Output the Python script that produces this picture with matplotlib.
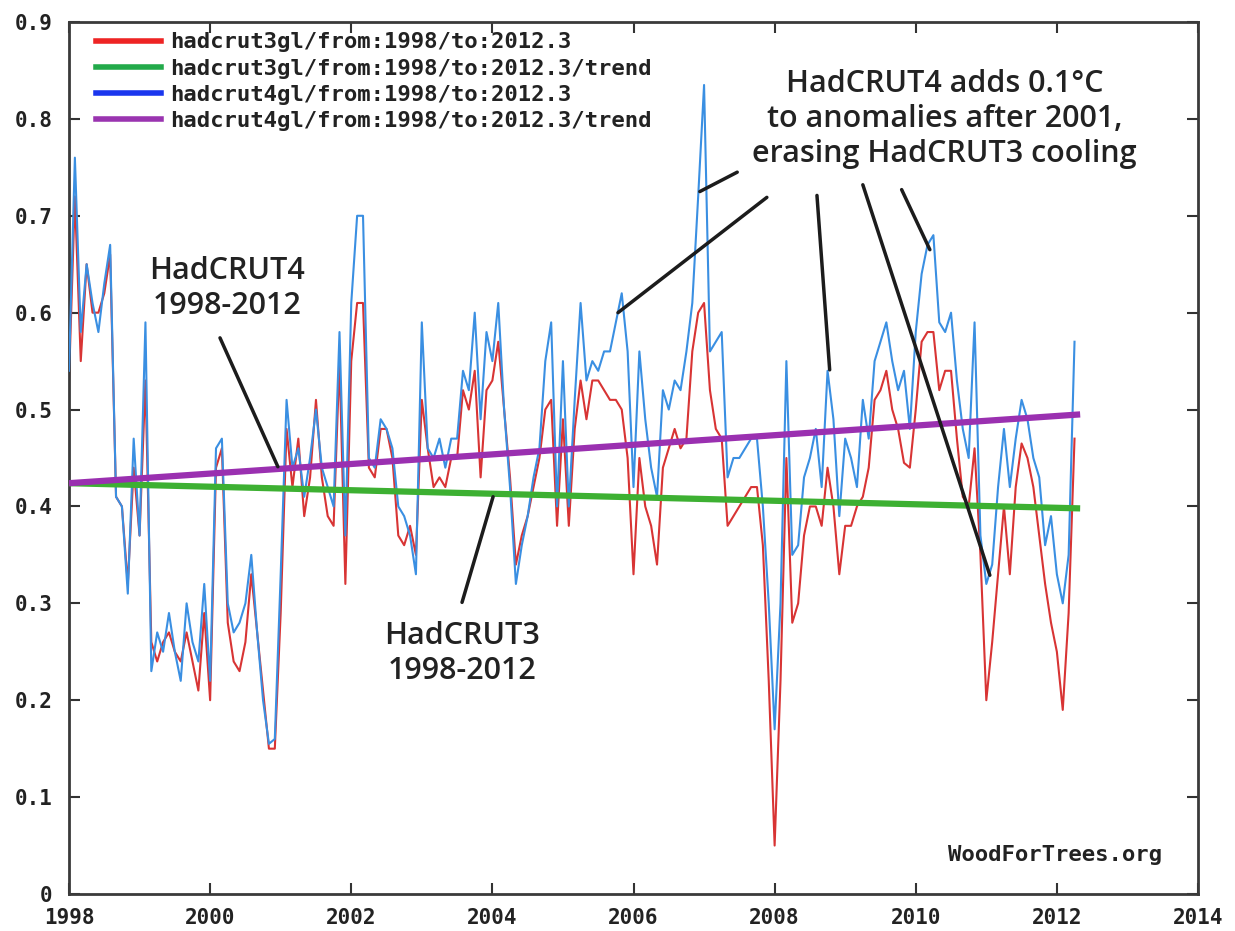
import numpy as np
import matplotlib
matplotlib.use("Agg")
import matplotlib.pyplot as plt
from matplotlib.lines import Line2D

# ---------------- data (monthly, Jan 1998 .. Apr 2012) ----------------
start_year = 1998

hadcrut3 = [
    0.53, 0.72, 0.55, 0.65, 0.60, 0.60, 0.62, 0.66, 0.41, 0.40, 0.32, 0.44,   # 1998
    0.37, 0.53, 0.26, 0.24, 0.26, 0.27, 0.25, 0.24, 0.27, 0.24, 0.21, 0.29,   # 1999
    0.20, 0.44, 0.46, 0.28, 0.24, 0.23, 0.26, 0.33, 0.27, 0.21, 0.15, 0.15,   # 2000
    0.29, 0.48, 0.42, 0.47, 0.39, 0.43, 0.51, 0.43, 0.39, 0.38, 0.55, 0.32,   # 2001
    0.55, 0.61, 0.61, 0.44, 0.43, 0.48, 0.48, 0.45, 0.37, 0.36, 0.38, 0.35,   # 2002
    0.51, 0.46, 0.42, 0.43, 0.42, 0.45, 0.45, 0.52, 0.50, 0.54, 0.43, 0.52,   # 2003
    0.53, 0.57, 0.50, 0.43, 0.34, 0.37, 0.39, 0.42, 0.45, 0.50, 0.51, 0.38,   # 2004
    0.49, 0.38, 0.48, 0.53, 0.49, 0.53, 0.53, 0.52, 0.51, 0.51, 0.50, 0.45,   # 2005
    0.33, 0.45, 0.40, 0.38, 0.34, 0.44, 0.46, 0.48, 0.46, 0.47, 0.56, 0.60,   # 2006
    0.61, 0.52, 0.48, 0.47, 0.38, 0.39, 0.40, 0.41, 0.42, 0.42, 0.36, 0.22,   # 2007
    0.05, 0.22, 0.45, 0.28, 0.30, 0.37, 0.40, 0.40, 0.38, 0.44, 0.40, 0.33,   # 2008
    0.38, 0.38, 0.40, 0.41, 0.44, 0.51, 0.52, 0.54, 0.50, 0.48, 0.445, 0.44,  # 2009
    0.50, 0.57, 0.58, 0.58, 0.52, 0.54, 0.54, 0.47, 0.41, 0.40, 0.46, 0.35,   # 2010
    0.20, 0.26, 0.33, 0.40, 0.33, 0.42, 0.465, 0.45, 0.42, 0.37, 0.32, 0.28,  # 2011
    0.25, 0.19, 0.29, 0.47,                                                   # 2012
]

hadcrut4 = [
    0.54, 0.76, 0.58, 0.65, 0.61, 0.58, 0.63, 0.67, 0.41, 0.40, 0.31, 0.47,   # 1998
    0.37, 0.59, 0.23, 0.27, 0.25, 0.29, 0.25, 0.22, 0.30, 0.26, 0.24, 0.32,   # 1999
    0.22, 0.46, 0.47, 0.30, 0.27, 0.28, 0.30, 0.35, 0.27, 0.20, 0.155, 0.16,  # 2000
    0.33, 0.51, 0.44, 0.46, 0.41, 0.45, 0.50, 0.44, 0.42, 0.40, 0.58, 0.37,   # 2001
    0.61, 0.70, 0.70, 0.45, 0.44, 0.49, 0.48, 0.46, 0.40, 0.39, 0.37, 0.33,   # 2002
    0.59, 0.46, 0.45, 0.47, 0.44, 0.47, 0.47, 0.54, 0.52, 0.60, 0.49, 0.58,   # 2003
    0.55, 0.61, 0.50, 0.42, 0.32, 0.36, 0.39, 0.43, 0.46, 0.55, 0.59, 0.40,   # 2004
    0.55, 0.40, 0.51, 0.61, 0.53, 0.55, 0.54, 0.56, 0.56, 0.59, 0.62, 0.56,   # 2005
    0.42, 0.56, 0.49, 0.44, 0.41, 0.52, 0.50, 0.53, 0.52, 0.56, 0.61, 0.72,   # 2006
    0.835, 0.56, 0.57, 0.58, 0.43, 0.45, 0.45, 0.46, 0.47, 0.47, 0.40, 0.30,  # 2007
    0.17, 0.30, 0.55, 0.35, 0.36, 0.43, 0.45, 0.48, 0.42, 0.54, 0.49, 0.39,   # 2008
    0.47, 0.45, 0.42, 0.51, 0.47, 0.55, 0.57, 0.59, 0.55, 0.52, 0.54, 0.48,   # 2009
    0.58, 0.64, 0.67, 0.68, 0.59, 0.58, 0.60, 0.53, 0.48, 0.45, 0.59, 0.37,   # 2010
    0.32, 0.34, 0.42, 0.48, 0.42, 0.47, 0.51, 0.49, 0.45, 0.43, 0.36, 0.39,   # 2011
    0.33, 0.30, 0.35, 0.57,                                                   # 2012
]

trend_x = [1998.0, 2012.33]
trend3 = [0.424, 0.398]
trend4 = [0.424, 0.495]

legend_labels = [
    "hadcrut3gl/from:1998/to:2012.3",
    "hadcrut3gl/from:1998/to:2012.3/trend",
    "hadcrut4gl/from:1998/to:2012.3",
    "hadcrut4gl/from:1998/to:2012.3/trend",
]
legend_colors = ["#ee2424", "#22aa4a", "#1a36ee", "#9a34b0"]

xticks = [1998, 2000, 2002, 2004, 2006, 2008, 2010, 2012, 2014]
yticks = [0, 0.1, 0.2, 0.3, 0.4, 0.5, 0.6, 0.7, 0.8, 0.9]
ytick_labels = ["0", "0.1", "0.2", "0.3", "0.4", "0.5", "0.6", "0.7", "0.8", "0.9"]

# ---------------- figure ----------------
W, H = 1235, 931
fig = plt.figure(figsize=(W / 100, H / 100), dpi=100)
fig.patch.set_facecolor("white")
ax = fig.add_axes([69 / W, 37 / H, 1129 / W, 872 / H])

t = start_year + np.arange(len(hadcrut3)) / 12.0

ax.plot(t, hadcrut3, color="#d83434", lw=1.5, zorder=2)
ax.plot(t, hadcrut4, color="#3a8fe2", lw=1.5, zorder=3)
ax.plot(trend_x, trend3, color="#3db032", lw=4.5, solid_capstyle="butt", zorder=4)
ax.plot(trend_x, trend4, color="#9a30b0", lw=4.5, solid_capstyle="butt", zorder=5)

ax.set_xlim(1998, 2014)
ax.set_ylim(0, 0.9)

mono = "DejaVu Sans Mono"
ax.set_xticks(xticks)
ax.set_xticklabels([str(v) for v in xticks], fontfamily=mono, fontweight="bold",
                   fontsize=15, color="#222222")
ax.set_yticks(yticks)
ax.set_yticklabels(ytick_labels, fontfamily=mono, fontweight="bold",
                   fontsize=15, color="#222222")
ax.tick_params(axis="both", direction="in", length=8, width=1.5, colors="#333333",
               top=True, right=True)
ax.tick_params(axis="x", pad=10)
ax.tick_params(axis="y", pad=12)
for lab in ax.get_xticklabels() + ax.get_yticklabels():
    lab.set_color("#222222")
for sp in ax.spines.values():
    sp.set_color("#3a3a3a")
    sp.set_linewidth(2)

# legend
handles = [Line2D([0], [0], color=c, lw=4) for c in legend_colors]
leg = ax.legend(handles, legend_labels, loc="upper left",
                bbox_to_anchor=(0.024, 0.988), frameon=False,
                prop={"family": mono, "weight": "bold", "size": 16},
                handlelength=2.9, handletextpad=0.45, labelspacing=0.28,
                borderpad=0.0, borderaxespad=0.0)
for txt in leg.get_texts():
    txt.set_color("#222222")

# watermark
ax.text(0.968, 0.033, "WoodForTrees.org", transform=ax.transAxes, ha="right",
        va="bottom", fontfamily=mono, fontweight="bold", fontsize=16, color="#222222")

# annotations
afont = dict(fontfamily="Open Sans", fontweight="semibold", fontsize=22,
             color="#222222", ha="center", va="center", linespacing=1.22)
ax.text(2000.24, 0.625, "HadCRUT4\n1998-2012", **afont)
ax.text(2003.57, 0.248, "HadCRUT3\n1998-2012", **afont)
ax.text(2010.41, 0.800, "HadCRUT4 adds 0.1\u00b0C\nto anomalies after 2001,\nerasing HadCRUT3 cooling",
        **afont)

pointer_lines = [
    ((2000.14, 0.574), (2000.96, 0.441)),
    ((2003.57, 0.301), (2004.01, 0.410)),
    ((2007.47, 0.745), (2006.94, 0.725)),
    ((2007.89, 0.719), (2005.78, 0.600)),
    ((2008.60, 0.721), (2008.78, 0.541)),
    ((2009.25, 0.732), (2011.05, 0.329)),
    ((2009.80, 0.727), (2010.20, 0.665)),
]
for (x0, y0), (x1, y1) in pointer_lines:
    ax.annotate("", xy=(x1, y1), xytext=(x0, y0),
                arrowprops=dict(arrowstyle="-", lw=2.5, color="#1c1c1c",
                                shrinkA=0, shrinkB=0), zorder=6)

fig.savefig("out.png", dpi=100, facecolor="white")
